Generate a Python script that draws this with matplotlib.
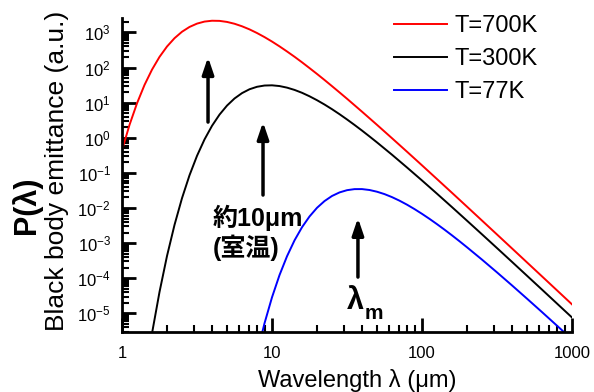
import numpy as np
import matplotlib
matplotlib.use("Agg")
import matplotlib.pyplot as plt
from matplotlib.ticker import LogLocator, FuncFormatter, NullFormatter

plt.rcParams['font.family'] = ['Liberation Sans', 'Noto Sans CJK JP', 'DejaVu Sans']
plt.rcParams['mathtext.fontset'] = 'custom'
plt.rcParams['mathtext.rm'] = 'Liberation Sans'
plt.rcParams['mathtext.it'] = 'Liberation Sans:italic'
plt.rcParams['mathtext.bf'] = 'Liberation Sans:bold'

# ---- data (wavelength in um, log10 of emittance) ----
wl_700 = [1.0, 1.122, 1.259, 1.413, 1.585, 1.778, 1.995, 2.239, 2.512, 2.818, 3.162, 3.548,
          3.981, 4.467, 5.012, 5.623, 6.310, 7.079, 7.943, 8.913, 10.0, 11.22, 12.59, 14.13,
          15.85, 17.78, 19.95, 22.39, 25.12, 28.18, 31.62, 39.81, 50.12, 63.10, 79.43, 100.0,
          125.9, 158.5, 199.5, 251.2, 316.2, 398.1, 501.2, 631.0, 794.3, 1000.0]
log_p700 = [-0.353, 0.367, 0.982, 1.506, 1.941, 2.303, 2.599, 2.836, 3.020, 3.156, 3.251, 3.309,
            3.333, 3.329, 3.299, 3.247, 3.175, 3.087, 2.983, 2.867, 2.740, 2.603, 2.458, 2.307,
            2.149, 1.985, 1.818, 1.646, 1.470, 1.292, 1.112, 0.743, 0.368, -0.013, -0.397, -0.785,
            -1.176, -1.568, -1.962, -2.358, -2.754, -3.151, -3.549, -3.947, -4.345, -4.744]

wl_300 = [1.259, 1.585, 1.778, 1.995, 2.239, 2.512, 2.818, 3.162, 3.548, 3.981, 4.467, 5.012,
          5.623, 6.310, 7.079, 7.943, 8.913, 10.0, 11.22, 12.59, 14.13, 15.85, 17.78, 19.95,
          22.39, 25.12, 28.18, 31.62, 35.48, 39.81, 44.67, 50.12, 63.10, 79.43, 100.0, 125.9,
          158.5, 199.5, 251.2, 316.2, 398.1, 501.2, 631.0, 794.3, 1000.0]
log_p300 = [-8.47, -5.569, -4.392, -3.366, -2.480, -1.719, -1.068, -0.514, -0.047, 0.341, 0.660, 0.917,
            1.119, 1.272, 1.382, 1.452, 1.488, 1.494, 1.473, 1.428, 1.363, 1.281, 1.182, 1.070,
            0.947, 0.814, 0.672, 0.522, 0.366, 0.205, 0.038, -0.132, -0.483, -0.846, -1.216, -1.593,
            -1.975, -2.361, -2.750, -3.141, -3.534, -3.929, -4.324, -4.721, -5.118]

wl_77 = [6.310, 7.943, 8.913, 10.0, 11.22, 12.59, 14.13, 15.85, 17.78, 19.95, 22.39, 25.12,
         28.18, 31.62, 35.48, 39.81, 44.67, 50.12, 56.23, 63.10, 70.79, 79.43, 89.13, 100.0,
         112.2, 125.9, 141.3, 158.5, 177.8, 199.5, 251.2, 316.2, 398.1, 501.2, 631.0, 794.3, 1000.0]
log_p77 = [-8.289, -6.143, -5.282, -4.542, -3.910, -3.373, -2.920, -2.547, -2.241, -1.994, -1.802, -1.657,
           -1.556, -1.492, -1.462, -1.461, -1.487, -1.536, -1.604, -1.690, -1.791, -1.905, -2.031, -2.166,
           -2.309, -2.460, -2.617, -2.779, -2.946, -3.118, -3.470, -3.833, -4.204, -4.582, -4.964, -5.351,
           -5.740]

series_labels = ['T=700K', 'T=300K', 'T=77K']
series_colors = ['#ff0000', '#000000', '#0000ff']
x_ticks = [1, 10, 100, 1000]
x_ticklabels = ['1', '10', '100', '1000']
y_exponents = [-5, -4, -3, -2, -1, 0, 1, 2, 3]

fig = plt.figure(figsize=(5.94, 3.92), dpi=100)
ax = fig.add_axes([0.2054, 0.1531, 0.963 - 0.2054, 0.954 - 0.1531])

for wl, lp, lab, col in zip([wl_700, wl_300, wl_77], [log_p700, log_p300, log_p77],
                            series_labels, series_colors):
    ax.plot(wl, 10 ** np.array(lp), color=col, lw=1.4, label=lab, solid_joinstyle='round')

ax.set_xscale('log')
ax.set_yscale('log')
ax.set_xlim(1, 1000)
ax.set_ylim(10 ** -5.53, 10 ** 3.41)

for s in ['top', 'right']:
    ax.spines[s].set_visible(False)
for s in ['left', 'bottom']:
    ax.spines[s].set_linewidth(2.0)

ax.set_xticks(x_ticks)
ax.set_xticklabels(x_ticklabels)
ax.xaxis.set_minor_locator(LogLocator(base=10, subs=np.arange(2, 10), numticks=20))
ax.xaxis.set_minor_formatter(NullFormatter())
ax.set_yticks([10.0 ** e for e in y_exponents])
ax.yaxis.set_major_formatter(FuncFormatter(lambda v, p: r'$\mathregular{10^{%d}}$' % round(np.log10(v))))
ax.yaxis.set_minor_locator(LogLocator(base=10, subs=np.arange(2, 10), numticks=20))
ax.yaxis.set_minor_formatter(NullFormatter())

ax.tick_params(axis='both', which='major', direction='in', length=10, width=2, labelsize=12)
ax.tick_params(axis='x', which='major', pad=10)
ax.tick_params(axis='y', which='major', pad=8)
ax.tick_params(axis='both', which='minor', direction='in', length=5, width=1.5)

leg = ax.legend(loc='upper left', bbox_to_anchor=(0.578, 1.047), frameon=False, fontsize=17,
                handlelength=2.25, handletextpad=0.3, labelspacing=0.47, borderpad=0)

arrow_kw = dict(arrowstyle='-|>,head_length=0.5,head_width=0.17', color='black', lw=2.5,
                shrinkA=0, shrinkB=0, mutation_scale=20)
ax.annotate('', xy=(3.745, 198), xytext=(3.745, 2.8), arrowprops=arrow_kw)
ax.annotate('', xy=(8.71, 2.8), xytext=(8.71, 0.0234), arrowprops=arrow_kw)
ax.annotate('', xy=(37.4, 5.2e-3), xytext=(37.4, 1.08e-4), arrowprops=arrow_kw)

ax.text(4.04, 5.1e-3, '約10μm', fontsize=18, fontweight='bold', ha='left', va='center',
        family=['Liberation Sans', 'Noto Sans CJK JP'])
ax.text(4.04, 7.2e-4, '(室温)', fontsize=18, fontweight='bold', ha='left', va='center',
        family=['Liberation Sans', 'Noto Sans CJK JP'])
ax.text(31.6, 2.2e-5, 'λ', fontsize=22, fontweight='bold', ha='left', va='center')
ax.text(41.7, 1.0e-5, 'm', fontsize=15, fontweight='bold', ha='left', va='center')

fig.text(357 / 594, 1 - 380 / 392, 'Wavelength λ (μm)', fontsize=17, ha='center', va='center')
fig.text(27 / 594, 1 - 205 / 392, 'P(λ)', fontsize=22, fontweight='bold', rotation=90,
         ha='center', va='center')
fig.text(57 / 594, 1 - 171 / 392, 'Black body emittance (a.u.)', fontsize=19, rotation=90,
         ha='center', va='center')

fig.savefig('out.png', dpi=100)
